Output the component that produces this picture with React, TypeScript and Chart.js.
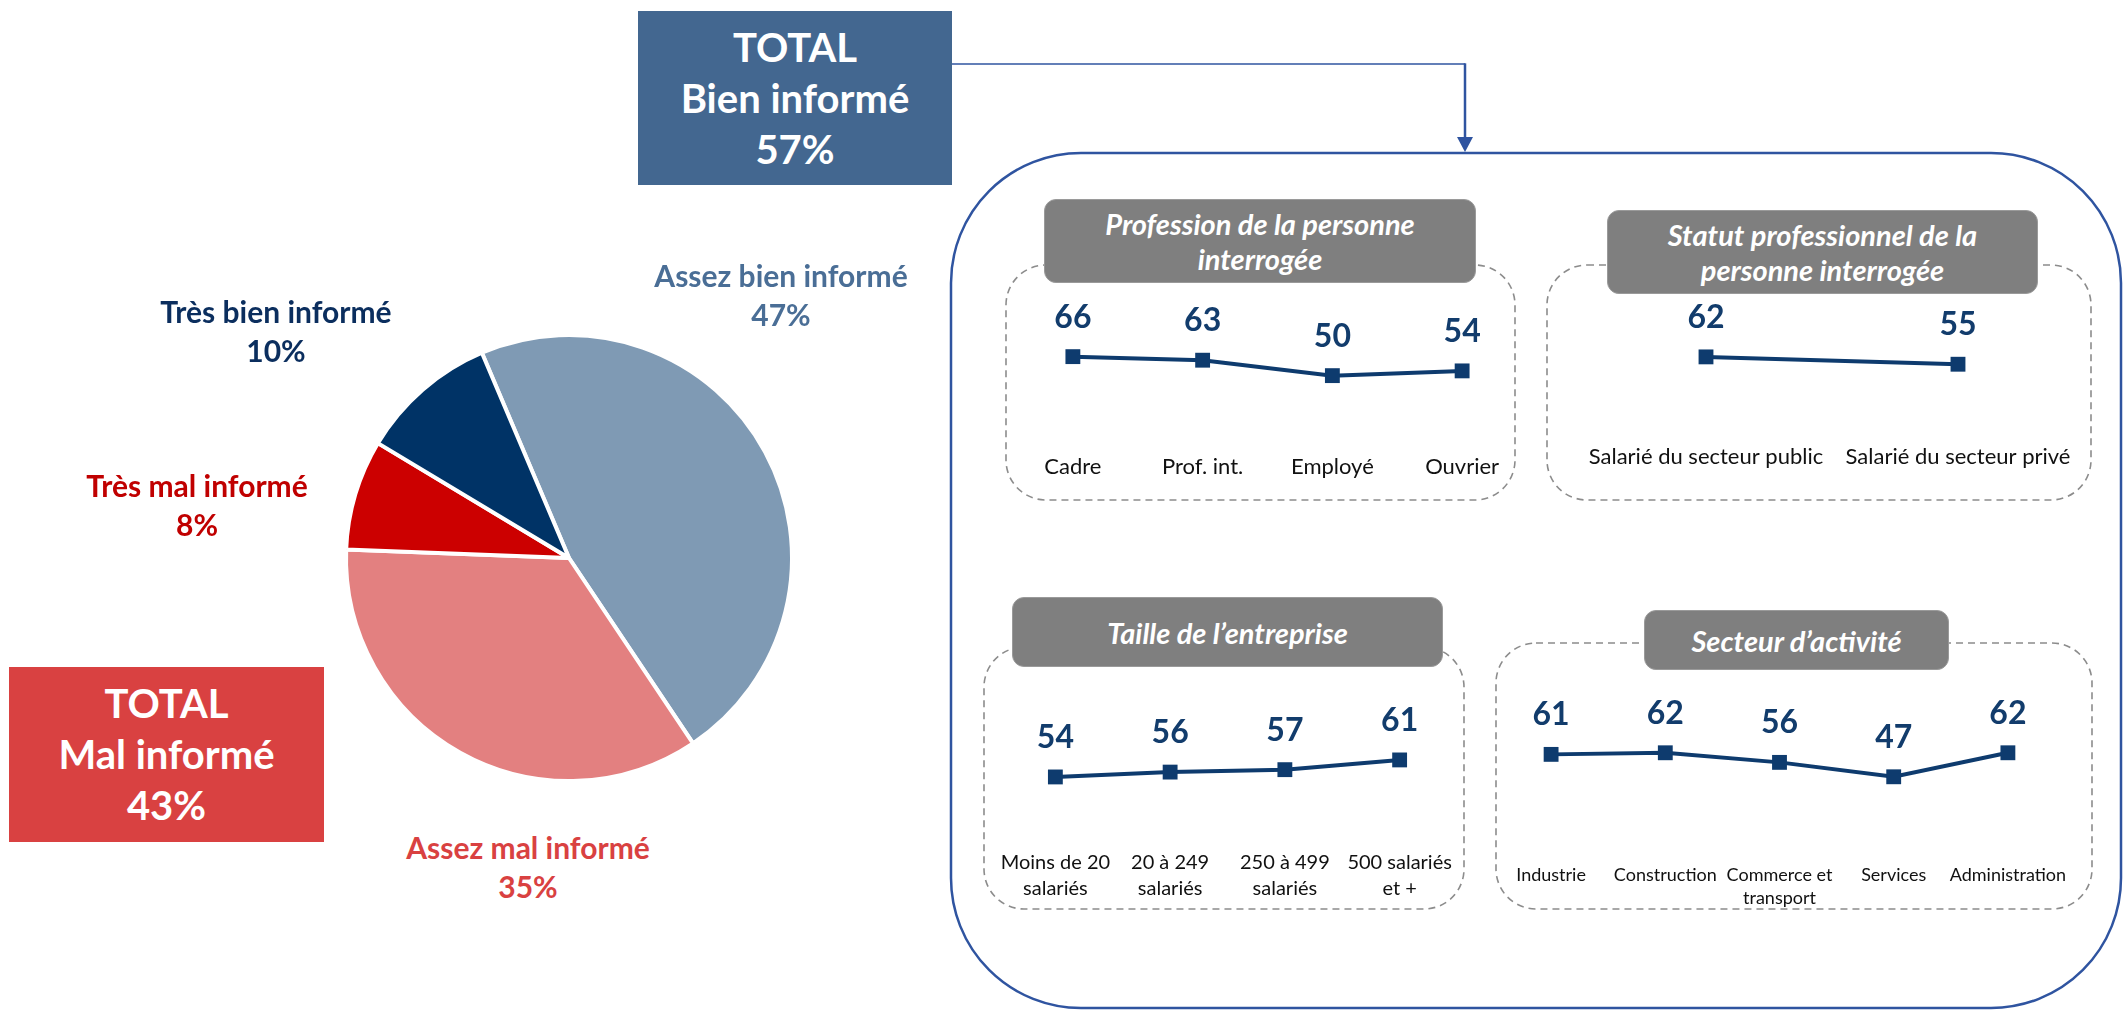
import React, { useEffect, useRef } from 'react';
import { Chart, registerables } from 'chart.js';

Chart.register(...registerables);

const FONT = 'Lato, "Open Sans", "DejaVu Sans", sans-serif';

// ---------- Data ----------
const pieLabels = ['Assez bien informé', 'Assez mal informé', 'Très mal informé', 'Très bien informé'];
const pieValues = [47, 35, 8, 10];

const totalTitles = ['TOTAL', 'TOTAL'];
const totalLabels = ['Bien informé', 'Mal informé'];
const totalValues = [57, 43];

const panelTitles = [
  ['Profession de la personne', 'interrogée'],
  ['Statut professionnel de la', 'personne interrogée'],
  ['Taille de l’entreprise'],
  ['Secteur d’activité'],
];

const professionLabels = ['Cadre', 'Prof. int.', 'Employé', 'Ouvrier'];
const professionValues = [66, 63, 50, 54];

const statutLabels = ['Salarié du secteur public', 'Salarié du secteur privé'];
const statutValues = [62, 55];

const tailleLabels = [['Moins de 20', 'salariés'], ['20 à 249', 'salariés'], ['250 à 499', 'salariés'], ['500 salariés', 'et +']];
const tailleValues = [54, 56, 57, 61];

const secteurLabels = ['Industrie', 'Construction', ['Commerce et', 'transport'], 'Services', 'Administration'];
const secteurValues = [61, 62, 56, 47, 62];

// ---------- Styles ----------
const pieColors = ['#7F9AB4', '#E38080', '#CC0000', '#003366'];
const pieLabelColors = ['#4A6E96', '#D94141', '#C00000', '#0B2E5E'];
const pieLabelLayout = [
  { cx: 781, top: 256 },
  { cx: 528, top: 828 },
  { cx: 197, top: 466 },
  { cx: 276, top: 292 },
];
const LINE_COLOR = '#0E3B6E';
const VALUE_COLOR = '#123C6C';
const BLUE_FRAME = '#2F54A0';

const valueLabelPlugin = {
  id: 'valueLabels',
  afterDatasetsDraw(chart: any) {
    const ctx = chart.ctx;
    const meta = chart.getDatasetMeta(0);
    const data = chart.data.datasets[0].data;
    ctx.save();
    ctx.font = `bold 32px ${FONT}`;
    ctx.fillStyle = VALUE_COLOR;
    ctx.textAlign = 'center';
    ctx.textBaseline = 'alphabetic';
    meta.data.forEach((pt: any, i: number) => {
      ctx.fillText(String(data[i]), pt.x, pt.y - 29);
    });
    ctx.restore();
  },
};

type PanelCfg = {
  labels: any[];
  values: number[];
  areaL: number; areaR: number; areaT: number; areaB: number;
  min: number; max: number;
  pad: number; font: number; lh: number; lines: number;
};

const SIDE = 60;
const TOPPAD = 50;

function LinePanel({ cfg }: { cfg: PanelCfg }) {
  const ref = useRef<HTMLCanvasElement>(null);
  const axisH = cfg.pad + cfg.lines * cfg.lh + 6;
  const width = cfg.areaR - cfg.areaL + 2 * SIDE;
  const height = TOPPAD + (cfg.areaB - cfg.areaT) + axisH;
  useEffect(() => {
    if (!ref.current) return;
    const chart = new Chart(ref.current, {
      type: 'line',
      data: {
        labels: cfg.labels,
        datasets: [
          {
            data: cfg.values,
            borderColor: LINE_COLOR,
            backgroundColor: LINE_COLOR,
            borderWidth: 4,
            tension: 0,
            pointStyle: 'rect',
            pointRadius: 10.5,
            pointBorderWidth: 0,
            pointBackgroundColor: LINE_COLOR,
            fill: false,
            clip: false as any,
          },
        ],
      },
      options: {
        responsive: false,
        animation: false,
        devicePixelRatio: 1,
        layout: { padding: { left: SIDE, right: SIDE, top: TOPPAD, bottom: 0 } },
        plugins: { legend: { display: false }, tooltip: { enabled: false } },
        scales: {
          x: {
            offset: true,
            grid: { display: false, drawTicks: false },
            border: { display: false },
            ticks: {
              padding: cfg.pad,
              color: '#111111',
              autoSkip: false,
              maxRotation: 0,
              minRotation: 0,
              font: { family: FONT, size: cfg.font, lineHeight: cfg.lh / cfg.font },
            },
            afterFit: (s: any) => {
              s.height = axisH;
            },
          },
          y: { display: false, min: cfg.min, max: cfg.max },
        },
      } as any,
      plugins: [valueLabelPlugin],
    });
    return () => chart.destroy();
  }, []);
  return (
    <canvas
      ref={ref}
      width={width}
      height={height}
      style={{
        position: 'absolute',
        left: cfg.areaL - SIDE,
        top: cfg.areaT - TOPPAD,
        width,
        height,
      }}
    />
  );
}

function PieChart() {
  const ref = useRef<HTMLCanvasElement>(null);
  const size = 480;
  useEffect(() => {
    if (!ref.current) return;
    const chart = new Chart(ref.current, {
      type: 'pie',
      data: {
        labels: pieLabels,
        datasets: [
          {
            data: pieValues,
            backgroundColor: pieColors,
            borderColor: '#ffffff',
            borderWidth: 4,
          },
        ],
      },
      options: {
        responsive: false,
        animation: false,
        devicePixelRatio: 1,
        rotation: -23,
        radius: 223,
        layout: { padding: 0 },
        plugins: { legend: { display: false }, tooltip: { enabled: false } },
      } as any,
    });
    return () => chart.destroy();
  }, []);
  return (
    <canvas
      ref={ref}
      width={size}
      height={size}
      style={{ position: 'absolute', left: 569 - size / 2, top: 558 - size / 2, width: size, height: size }}
    />
  );
}

const panels: PanelCfg[] = [
  { labels: professionLabels, values: professionValues, areaL: 1008, areaR: 1527, areaT: 300, areaB: 435, min: 0, max: 113.7, pad: 19, font: 22, lh: 25, lines: 1 },
  { labels: statutLabels, values: statutValues, areaL: 1580, areaR: 2084, areaT: 280, areaB: 422, min: 0, max: 135.2, pad: 22, font: 22, lh: 25, lines: 1 },
  { labels: tailleLabels, values: tailleValues, areaL: 998, areaR: 1457, areaT: 695, areaB: 811, min: 40, max: 87.7, pad: 39, font: 20, lh: 26, lines: 2 },
  { labels: secteurLabels, values: secteurValues, areaL: 1494, areaR: 2065, areaT: 695, areaB: 852, min: 0, max: 98.1, pad: 12, font: 18, lh: 23, lines: 2 },
];

const dashedBoxes = [
  { x: 1006, y: 265, w: 509, h: 235 },
  { x: 1547, y: 265, w: 544, h: 235 },
  { x: 984, y: 647, w: 480, h: 262 },
  { x: 1496, y: 643, w: 596, h: 266 },
];

const titleBoxes = [
  { x: 1044, y: 199, w: 432, h: 84 },
  { x: 1607, y: 210, w: 431, h: 84 },
  { x: 1012, y: 597, w: 431, h: 70 },
  { x: 1644, y: 610, w: 305, h: 60 },
];

const totalBoxes = [
  { x: 638, y: 11, w: 314, h: 174, bg: '#436790' },
  { x: 9, y: 667, w: 315, h: 175, bg: '#D94141' },
];

export default function App() {
  return (
    <div
      style={{
        position: 'fixed',
        left: 0,
        top: 0,
        width: 2123,
        height: 1011,
        background: '#ffffff',
        overflow: 'hidden',
        fontFamily: FONT,
      }}
    >
      <svg width={2123} height={1011} style={{ position: 'absolute', left: 0, top: 0 }}>
        <rect x={951} y={153} width={1170} height={855} rx={130} ry={130} fill="none" stroke={BLUE_FRAME} strokeWidth={2.5} />
        <line x1={952} y1={64} x2={1465} y2={64} stroke={BLUE_FRAME} strokeWidth={1.5} />
        <line x1={1465} y1={63.3} x2={1465} y2={140} stroke={BLUE_FRAME} strokeWidth={2.5} />
        <polygon points="1457,137 1473,137 1465,152" fill={BLUE_FRAME} />
        {dashedBoxes.map((b, i) => (
          <rect key={i} x={b.x} y={b.y} width={b.w} height={b.h} rx={40} ry={40} fill="none" stroke="#8C8C8C" strokeWidth={1.6} strokeDasharray="7 5" />
        ))}
      </svg>

      {totalBoxes.map((b, i) => (
        <div
          key={i}
          style={{
            position: 'absolute',
            left: b.x,
            top: b.y,
            width: b.w,
            height: b.h,
            background: b.bg,
            color: '#ffffff',
            fontWeight: 700,
            fontSize: 40,
            lineHeight: '51px',
            display: 'flex',
            flexDirection: 'column',
            alignItems: 'center',
            justifyContent: 'center',
            textAlign: 'center',
          }}
        >
          <div>{totalTitles[i]}</div>
          <div>{totalLabels[i]}</div>
          <div>{totalValues[i]}%</div>
        </div>
      ))}

      <PieChart />

      {pieLabels.map((lab, i) => (
        <div
          key={i}
          style={{
            position: 'absolute',
            left: pieLabelLayout[i].cx - 200,
            top: pieLabelLayout[i].top,
            width: 400,
            textAlign: 'center',
            color: pieLabelColors[i],
            fontWeight: 700,
            fontSize: 30,
            lineHeight: '39px',
            whiteSpace: 'nowrap',
          }}
        >
          <div>{lab}</div>
          <div>{pieValues[i]}%</div>
        </div>
      ))}

      {titleBoxes.map((b, i) => (
        <div
          key={i}
          style={{
            position: 'absolute',
            left: b.x,
            top: b.y,
            width: b.w,
            height: b.h,
            boxSizing: 'border-box',
            background: '#7F7F7F',
            border: '1px solid #9A9A9A',
            borderRadius: 12,
            color: '#ffffff',
            fontWeight: 700,
            fontStyle: 'italic',
            fontSize: 29,
            lineHeight: '35px',
            display: 'flex',
            flexDirection: 'column',
            alignItems: 'center',
            justifyContent: 'center',
            textAlign: 'center',
            whiteSpace: 'nowrap',
          }}
        >
          {panelTitles[i].map((t, j) => (
            <div key={j}>{t}</div>
          ))}
        </div>
      ))}

      {panels.map((cfg, i) => (
        <LinePanel key={i} cfg={cfg} />
      ))}
    </div>
  );
}
